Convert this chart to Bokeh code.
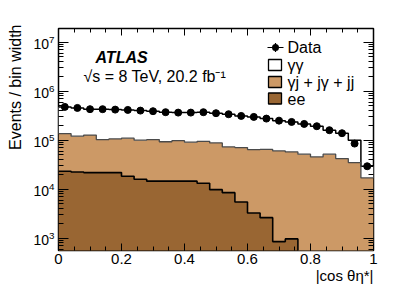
import numpy as np
from bokeh.plotting import figure
from bokeh.models import (Range1d, FixedTicker, LinearAxis, LogAxis, Label,
                          BoxAnnotation, NumeralTickFormatter, Title)
from bokeh.embed import file_html
from bokeh.resources import INLINE

# ---------------- data ----------------
bin_edges = [round(i * 0.04, 2) for i in range(26)]

data_vals = [4.79e5, 4.56e5, 4.30e5, 4.30e5, 4.21e5, 4.15e5, 4.02e5, 3.91e5,
             3.73e5, 3.66e5, 3.66e5, 3.73e5, 3.56e5, 3.39e5, 3.13e5, 2.99e5,
             2.76e5, 2.51e5, 2.36e5, 2.15e5, 1.93e5, 1.60e5, 1.39e5, 8.53e4,
             2.94e4]

gg_vals = [343000, 335000, 303000, 327000, 315000, 305000, 302000, 288000,
           280000, 268000, 275000, 278000, 268000, 266000, 242400, 234700,
           211000, 190500, 178300, 163200, 147400, 108200, 96900, 65100,
           12400]

gj_vals = [112700, 98500, 105200, 81200, 84200, 91600, 84000, 88400,
           78400, 83400, 76400, 81800, 78200, 64500, 65100, 61020,
           62370, 59650, 56730, 51800, 45600, 51800, 42100, 34900,
           17000]

ee_vals = [23300, 22500, 21800, 21800, 21800, 18400, 16000, 14600,
           14600, 14600, 14600, 13200, 9800, 8500, 5500, 3280,
           2630, 853, 968, 0, 0, 0, 0, 0,
           0]

x_ticks = [0, 0.2, 0.4, 0.6, 0.8, 1.0]
x_minor_ticks = [round(i * 0.05, 2) for i in range(21)]
y_ticks = [1e3, 1e4, 1e5, 1e6, 1e7]
y_minor_ticks = [m * 10 ** e for e in range(2, 8) for m in range(1, 10)]

legend_labels = ["Data", "γγ", "γj + jγ + jj", "ee"]
x_title = "|cos θη*|"
y_title = "Events / bin width"

# ---------------- styling ----------------
FONT = "Liberation Sans"
EE_COL = "#996633"
GJ_COL = "#cc9966"
GG_COL = "#ffffff"

edges = np.array(bin_edges)
left, right = edges[:-1], edges[1:]
centers = 0.5 * (left + right)
floor = 1.0

ee = np.array(ee_vals, dtype=float)
gj = np.array(gj_vals, dtype=float)
gg = np.array(gg_vals, dtype=float)
ee_top = np.maximum(ee, floor)
gj_top = ee + gj
tot = gj_top + gg

p = figure(width=415, height=290, x_range=Range1d(0, 1),
           y_range=Range1d(10 ** 2.749, 10 ** 7.28), y_axis_type="log",
           output_backend="svg", toolbar_location=None,
           min_border_left=58, min_border_right=42, min_border_top=28,
           min_border_bottom=40)
p.grid.visible = False
p.outline_line_color = "black"
p.outline_line_width = 1.5
p.background_fill_color = "white"
p.border_fill_color = "white"

def step_y(v):
    v = np.maximum(np.asarray(v, dtype=float), floor)
    return np.append(v, v[-1])

# stacked histograms (filled step areas)
p.varea_step(x=edges, y1=np.full(len(edges), floor), y2=step_y(ee_top),
             step_mode="after", fill_color=EE_COL)
p.varea_step(x=edges, y1=step_y(ee_top), y2=step_y(gj_top),
             step_mode="after", fill_color=GJ_COL)
p.varea_step(x=edges, y1=step_y(gj_top), y2=step_y(tot),
             step_mode="after", fill_color=GG_COL)

p.step(x=edges, y=step_y(tot), mode="after", line_color="black", line_width=1.5)
p.step(x=edges, y=step_y(gj_top), mode="after", line_color="#4a4a4a", line_width=1.3)
p.step(x=edges, y=step_y(ee), mode="after", line_color="black", line_width=1.6)

p.scatter(x=centers, y=data_vals, size=7, color="black")

# ---------------- axes ----------------
xt = FixedTicker(ticks=x_ticks, minor_ticks=x_minor_ticks)
yt = FixedTicker(ticks=y_ticks, minor_ticks=y_minor_ticks)

xa = p.xaxis[0]
xa.ticker = xt
xa.formatter = NumeralTickFormatter(format="0.[0]")
ya = p.yaxis[0]
ya.ticker = yt

xa.major_tick_in, xa.major_tick_out = 7, 0
xa.minor_tick_in, xa.minor_tick_out = 4, 0
xa.major_label_text_font_size = "15px"
xa.major_label_standoff = 3
ya.major_tick_in, ya.major_tick_out = 10, 0
ya.minor_tick_in, ya.minor_tick_out = 5, 0
ya.major_label_text_font_size = "14px"
ya.major_label_standoff = 4
for ax in (xa, ya):
    ax.axis_line_color = None
    ax.major_label_text_font = FONT
    ax.major_label_text_color = "black"
    ax.major_tick_line_color = "black"
    ax.minor_tick_line_color = "black"

top_ax = LinearAxis(ticker=xt, major_tick_in=7, major_tick_out=0,
                    minor_tick_in=4, minor_tick_out=0, axis_line_color=None,
                    major_label_text_color=None, major_label_text_font_size="1px",
                    major_label_standoff=0)
right_ax = LogAxis(ticker=yt, major_tick_in=10, major_tick_out=0,
                   minor_tick_in=5, minor_tick_out=0, axis_line_color=None,
                   major_label_text_color=None, major_label_text_font_size="1px",
                   major_label_standoff=0)
p.add_layout(top_ax, "above")
p.add_layout(right_ax, "right")

# axis titles (side-panel titles, aligned to the frame ends)
p.add_layout(Title(text=y_title, align="right", offset=-4, standoff=10,
                   vertical_align="top", text_font=FONT, text_font_size="16px",
                   text_font_style="normal", text_color="black"), "left")
p.add_layout(Title(text=x_title, align="right", offset=0, standoff=0,
                   vertical_align="top", text_font=FONT, text_font_size="15px",
                   text_font_style="normal", text_color="black"), "below")

# ---------------- texts inside the frame ----------------
def lab(x, y, text, size="16px", **kw):
    kw.setdefault("text_baseline", "alphabetic")
    l = Label(x=x, y=y, x_units="screen", y_units="screen", text=text,
              text_font=FONT, text_font_size=size, text_color="black", **kw)
    p.add_layout(l)
    return l

lab(37, 193, "ATLAS", text_font_style="bold italic")
lab(25, 174, "√s = 8 TeV, 20.2 fb⁻¹")

# ---------------- legend (manual) ----------------
leg_y = [203, 185.5, 168.5, 152]
box_cols = [None, GG_COL, GJ_COL, EE_COL]
for i, txt in enumerate(legend_labels):
    lab(229, leg_y[i], txt, text_baseline="middle")
    if box_cols[i] is not None:
        p.add_layout(BoxAnnotation(left=210, right=223, bottom=leg_y[i] - 5.5,
                                   top=leg_y[i] + 5.5, left_units="screen",
                                   right_units="screen", top_units="screen",
                                   bottom_units="screen", fill_color=box_cols[i],
                                   fill_alpha=1, line_color="black", line_width=1.3,
                                   line_alpha=1))
cy = leg_y[0]
for (l_, r_, b_, t_) in [(209, 225, cy - 0.6, cy + 0.6), (216.4, 217.6, cy - 4.5, cy + 4.5)]:
    p.add_layout(BoxAnnotation(left=l_, right=r_, bottom=b_, top=t_,
                               left_units="screen", right_units="screen",
                               top_units="screen", bottom_units="screen",
                               fill_color="black", fill_alpha=1, line_color=None))
p.add_layout(BoxAnnotation(left=213.5, right=220.5, bottom=cy - 3.5, top=cy + 3.5,
                           left_units="screen", right_units="screen",
                           top_units="screen", bottom_units="screen",
                           fill_color="black", fill_alpha=1, line_color=None,
                           border_radius=4))

open("out.html", "w").write(file_html(p, INLINE))
